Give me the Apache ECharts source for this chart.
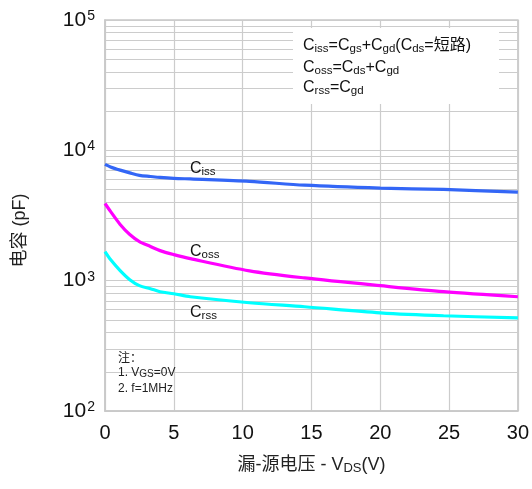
<!DOCTYPE html>
<html><head><meta charset="utf-8">
<script src="https://cdn.jsdelivr.net/npm/echarts@6/dist/echarts.min.js"></script>
<style>html,body{margin:0;padding:0;background:#fff}#c{width:532px;height:489px}</style>
</head><body><div id="c"></div>
<script>
// Drain-source voltage (V)
const vds  = [0, 0.4, 1.1, 1.8, 2.5, 3.3, 4, 5, 6.2, 10.5, 14.5, 20, 24.6, 30];
// Capacitances (pF)
const ciss = [7800, 7460, 7050, 6710, 6420, 6300, 6200, 6100, 6030, 5780, 5400, 5130, 5010, 4780];
const coss = [3910, 3400, 2700, 2260, 1995, 1830, 1700, 1585, 1476, 1190, 1050, 915, 823, 753];
const crss = [1670, 1452, 1195, 1018, 916, 868, 823, 794, 753, 677, 631, 567, 538, 519];
const xTicks = [0, 5, 10, 15, 20, 25, 30];
const yDecades = [100, 1000, 10000, 100000];

const FONT = 'Liberation Sans, Arial, Noto Sans CJK SC, sans-serif';
const pairs = arr => vds.map((v, i) => [v, arr[i]]);
const chart = echarts.init(document.getElementById('c'), null, {renderer: 'canvas'});

const subRich = {
  s: {fontSize: 11.5, fontFamily: FONT, color: '#111', verticalAlign: 'bottom', padding: [6, 0, 0, 0]}
};
const F16 = '16px ' + FONT;

chart.setOption({
  backgroundColor: '#fff',
  animation: false,
  grid: {left: 105, right: 14, top: 20, bottom: 78, show: true, borderColor: '#c8c8c8', borderWidth: 1.5},
  xAxis: {
    type: 'value', min: xTicks[0], max: xTicks[xTicks.length - 1], interval: 5,
    name: '漏-源电压 - V{s|DS}(V)', nameLocation: 'middle', nameGap: 44,
    nameTextStyle: {fontSize: 18, fontFamily: FONT, color: '#222',
      rich: {s: {fontSize: 13, fontFamily: FONT, color: '#222', verticalAlign: 'bottom', padding: [7, 0, 0, 0]}}},
    axisLine: {show: true, lineStyle: {color: '#c8c8c8', width: 1.5}},
    axisTick: {show: false},
    axisLabel: {fontSize: 20, fontFamily: FONT, color: '#111', margin: 12},
    splitLine: {show: true, lineStyle: {color: '#cccccc', width: 1.2}}
  },
  yAxis: {
    type: 'log', logBase: 10, min: yDecades[0], max: yDecades[yDecades.length - 1],
    name: '电容 (pF)', nameLocation: 'middle', nameGap: 76, nameRotate: 90,
    nameTextStyle: {fontSize: 18, fontFamily: FONT, color: '#222', fontWeight: 'normal', padding: [0, 30, 0, 0]},
    axisLine: {show: true, lineStyle: {color: '#c8c8c8', width: 1.5}},
    axisTick: {show: false},
    axisLabel: {
      margin: 10, fontFamily: FONT, color: '#111',
      formatter: v => '{b|10}{e|' + Math.round(Math.log10(v)) + '}',
      rich: {
        b: {fontSize: 21, fontFamily: FONT, color: '#111'},
        e: {fontSize: 14, fontFamily: FONT, color: '#111', verticalAlign: 'top', padding: [0, 0, 8, 1]}
      }
    },
    splitLine: {show: true, lineStyle: {color: '#cccccc', width: 1.2}},
    minorTick: {show: false, splitNumber: 9},
    minorSplitLine: {show: true, lineStyle: {color: '#cccccc', width: 1.2}}
  },
  graphic: [
    {type: 'rect', shape: {x: 293, y: 28, width: 206, height: 76}, style: {fill: '#fff'}, z: 5},
    {type: 'text', x: 303, y: 37, z: 6, style: {text: 'C{s|iss}=C{s|gs}+C{s|gd}(C{s|ds}=短路)', rich: subRich, font: F16, fill: '#111'}},
    {type: 'text', x: 303, y: 59, z: 6, style: {text: 'C{s|oss}=C{s|ds}+C{s|gd}', rich: subRich, font: F16, fill: '#111'}},
    {type: 'text', x: 303, y: 79, z: 6, style: {text: 'C{s|rss}=C{s|gd}', rich: subRich, font: F16, fill: '#111'}},
    {type: 'text', x: 190, y: 160, z: 6, style: {text: 'C{s|iss}', rich: subRich, font: F16, fill: '#111'}},
    {type: 'text', x: 190, y: 243, z: 6, style: {text: 'C{s|oss}', rich: subRich, font: F16, fill: '#111'}},
    {type: 'text', x: 190, y: 304, z: 6, style: {text: 'C{s|rss}', rich: subRich, font: F16, fill: '#111'}},
    {type: 'text', x: 118, y: 351, z: 6, style: {text: '注：', font: '12px Noto Sans CJK SC', fill: '#222'}},
    {type: 'text', x: 118, y: 366, z: 6, style: {text: '1. V{s|GS}=0V', fill: '#222',
      rich: {s: {fontSize: 10, fontFamily: FONT, color: '#222', verticalAlign: 'bottom', padding: [3, 0, 0, 0]}}, font: '12px ' + FONT}},
    {type: 'text', x: 118, y: 383, z: 6, style: {text: '2. f=1MHz', font: '12px ' + FONT, fill: '#222'}}
  ],
  series: [
    {type: 'line', name: 'Ciss', data: pairs(ciss), smooth: 0.3, showSymbol: false, lineStyle: {color: '#3366f6', width: 3.2}, z: 3},
    {type: 'line', name: 'Coss', data: pairs(coss), smooth: 0.3, showSymbol: false, lineStyle: {color: '#ff00ff', width: 3.2}, z: 3},
    {type: 'line', name: 'Crss', data: pairs(crss), smooth: 0.3, showSymbol: false, lineStyle: {color: '#00ffff', width: 3.2}, z: 3}
  ]
});
</script></body></html>
